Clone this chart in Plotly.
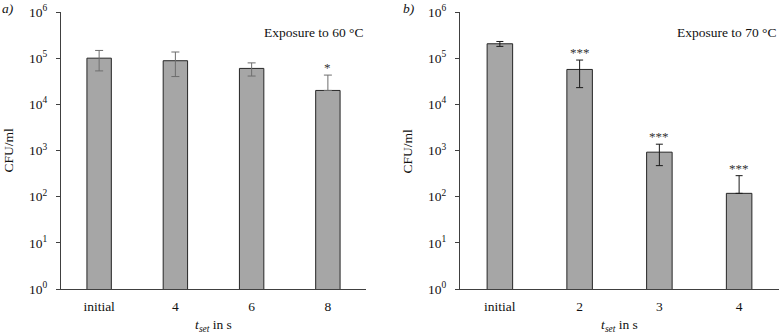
import plotly.graph_objects as go
import numpy as np

# Panel a) Exposure to 60 °C
cats_a = ["initial", "4", "6", "8"]
vals_a = [1.0e5, 8.8e4, 6.0e4, 2.0e4]
err_plus_a = [4.7e4, 4.8e4, 1.9e4, 2.3e4]
err_minus_a = [4.7e4, 4.8e4, 1.9e4, 0]
sig_a = ["", "", "", "*"]

# Panel b) Exposure to 70 °C
cats_b = ["initial", "2", "3", "4"]
vals_b = [2.05e5, 5.7e4, 9.2e2, 1.18e2]
err_plus_b = [2.5e4, 3.4e4, 4.5e2, 1.67e2]
err_minus_b = [2.5e4, 3.4e4, 4.5e2, 0]
sig_b = ["", "***", "***", "***"]

ytick_vals = [1, 10, 100, 1e3, 1e4, 1e5, 1e6]
ytick_text = ["10<sup>0</sup>", "10<sup>1</sup>", "10<sup>2</sup>", "10<sup>3</sup>",
              "10<sup>4</sup>", "10<sup>5</sup>", "10<sup>6</sup>"]

FONT = "Liberation Serif, Times New Roman, serif"
W, H = 779, 334

fig = go.Figure()
fig.add_trace(go.Bar(
    x=cats_a, y=vals_a, xaxis="x", yaxis="y",
    marker=dict(color="#a6a6a6", line=dict(color="#262626", width=1)),
    error_y=dict(type="data", symmetric=False, array=err_plus_a, arrayminus=err_minus_a,
                 color="#6e6e6e", thickness=1, width=4),
    showlegend=False))
fig.add_trace(go.Bar(
    x=cats_b, y=vals_b, xaxis="x2", yaxis="y2",
    marker=dict(color="#a6a6a6", line=dict(color="#262626", width=1)),
    error_y=dict(type="data", symmetric=False, array=err_plus_b, arrayminus=err_minus_b,
                 color="#1a1a1a", thickness=1, width=3.5),
    showlegend=False))

ax_common = dict(type="category", range=[-0.5, 3.5], showgrid=False, zeroline=False,
                 showline=True, linecolor="#404040", linewidth=1, ticks="",
                 tickfont=dict(family=FONT, size=13.5, color="#111"), fixedrange=True,
                 ticklabelstandoff=5)
yax_common = dict(type="log", range=[0, 6], tickvals=ytick_vals, ticktext=ytick_text,
                  showgrid=False, zeroline=False, showline=True, linecolor="#404040",
                  linewidth=1, ticks="outside", ticklen=4, tickcolor="#404040",
                  tickfont=dict(family=FONT, size=13.5, color="#111"), ticklabelstandoff=6)

xtitle = dict(text="<i>t</i><sub><i>set</i></sub> in s",
              font=dict(family=FONT, size=13.5, color="#111"), standoff=7)

fig.update_layout(
    width=W, height=H,
    margin=dict(l=0, r=0, t=12, b=45),
    paper_bgcolor="white", plot_bgcolor="white",
    bargap=0.68,
    font=dict(family=FONT, size=13.5, color="#111"),
    xaxis=dict(domain=[61 / W, 366 / W], anchor="y", title=xtitle, **ax_common),
    yaxis=dict(domain=[0, 1], anchor="x", **yax_common),
    xaxis2=dict(domain=[460 / W, 1.0], anchor="y2", title=xtitle, **ax_common),
    yaxis2=dict(domain=[0, 1], anchor="x2", **yax_common),
)

annots = []
# significance stars (x given as category index)
for cats, vals, ep, sig, xr, yr in [(cats_a, vals_a, err_plus_a, sig_a, "x", "y"),
                                     (cats_b, vals_b, err_plus_b, sig_b, "x2", "y2")]:
    for i, (v, e, s) in enumerate(zip(vals, ep, sig)):
        if s:
            annots.append(dict(x=i, y=np.log10(v + e), xref=xr, yref=yr, text=s,
                               showarrow=False, yanchor="bottom", yshift=-2,
                               font=dict(family=FONT, size=13, color="#333")))

annots += [
    dict(x=366 / W, y=1 - 20 / (H - 57), xref="paper", yref="paper", text="Exposure to 60 °C",
         showarrow=False, xanchor="right", yanchor="middle",
         font=dict(family=FONT, size=13.5, color="#111")),
    dict(x=1.0, y=1 - 20 / (H - 57), xref="paper", yref="paper", text="Exposure to 70 °C",
         showarrow=False, xanchor="right", yanchor="middle",
         font=dict(family=FONT, size=13.5, color="#111")),
    dict(x=0, y=1 + 4 / (H - 57), xref="paper", yref="paper", text="<i>a)</i>",
         showarrow=False, xanchor="left", yanchor="middle",
         font=dict(family=FONT, size=13.5, color="#111")),
    dict(x=401 / W, y=1 + 4 / (H - 57), xref="paper", yref="paper", text="<i>b)</i>",
         showarrow=False, xanchor="left", yanchor="middle",
         font=dict(family=FONT, size=13.5, color="#111")),
    dict(x=8 / W, y=0.5, xref="paper", yref="paper", text="CFU/ml", textangle=-90,
         showarrow=False, xanchor="center", yanchor="middle",
         font=dict(family=FONT, size=13.5, color="#111")),
    dict(x=407 / W, y=0.5, xref="paper", yref="paper", text="CFU/ml", textangle=-90,
         showarrow=False, xanchor="center", yanchor="middle",
         font=dict(family=FONT, size=13.5, color="#111")),
]
fig.update_layout(annotations=annots)

fig.write_html("out.html")
